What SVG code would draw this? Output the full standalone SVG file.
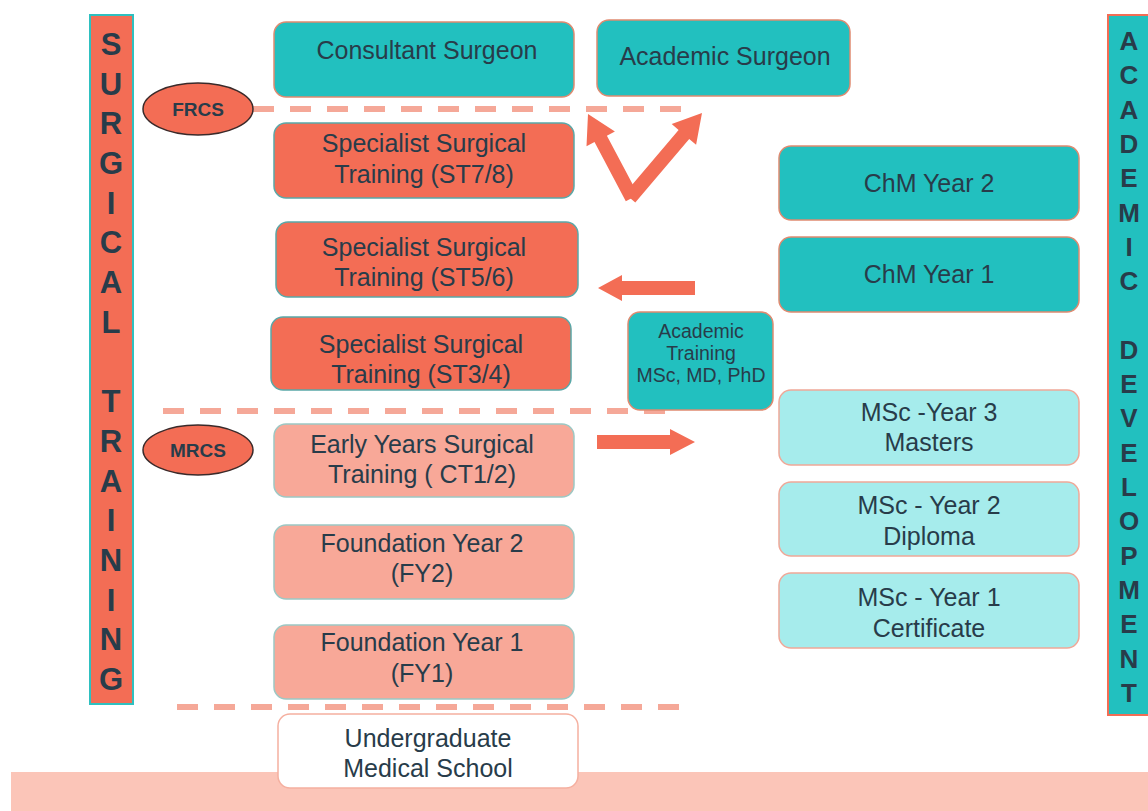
<svg xmlns="http://www.w3.org/2000/svg" width="1148" height="811" viewBox="0 0 1148 811">
<style>
text{font-family:"Liberation Sans",Arial,sans-serif;fill:#283c4a;text-anchor:middle}
.t{font-size:25px}
.s{font-size:19.5px}
.e{font-size:19px;font-weight:bold}
.teal{fill:#22c0bf;stroke:#e08a70;stroke-width:1.5}
.coral{fill:#f36d55;stroke:#5aa8a8;stroke-width:1.5}
.salmon{fill:#f8a898;stroke:#9cc8c4;stroke-width:1.5}
.lteal{fill:#a6ecec;stroke:#f0a898;stroke-width:1.5}
.white{fill:#fff;stroke:#f5b0a0;stroke-width:1.5}
.dash{stroke:#f5a898;stroke-width:6;stroke-dasharray:21 16;fill:none}
.arr{fill:#f36d55}
.bar{font-size:31px;font-weight:bold}
.bar2{font-size:26px;font-weight:bold}
</style>
<rect x="11" y="772" width="1137" height="39" fill="#fbc5b8"/>
<g id="surgical-bar">
<rect x="90" y="15" width="43" height="689" fill="#f36d55" stroke="#2ec0c0" stroke-width="2"/>
<text class="bar" x="111" y="55">S</text>
<text class="bar" x="111" y="95">U</text>
<text class="bar" x="111" y="134">R</text>
<text class="bar" x="111" y="174">G</text>
<text class="bar" x="111" y="214">I</text>
<text class="bar" x="111" y="253">C</text>
<text class="bar" x="111" y="293">A</text>
<text class="bar" x="111" y="333">L</text>
<text class="bar" x="111" y="412">T</text>
<text class="bar" x="111" y="452">R</text>
<text class="bar" x="111" y="492">A</text>
<text class="bar" x="111" y="531">I</text>
<text class="bar" x="111" y="571">N</text>
<text class="bar" x="111" y="611">I</text>
<text class="bar" x="111" y="650">N</text>
<text class="bar" x="111" y="690">G</text>
</g>
<g id="academic-bar">
<rect x="1108" y="15" width="52" height="700" fill="#22c0bf" stroke="#f36d55" stroke-width="2"/>
<text class="bar2" x="1129" y="50">A</text>
<text class="bar2" x="1129" y="84">C</text>
<text class="bar2" x="1129" y="119">A</text>
<text class="bar2" x="1129" y="153">D</text>
<text class="bar2" x="1129" y="187">E</text>
<text class="bar2" x="1129" y="222">M</text>
<text class="bar2" x="1129" y="256">I</text>
<text class="bar2" x="1129" y="290">C</text>
<text class="bar2" x="1129" y="359">D</text>
<text class="bar2" x="1129" y="393">E</text>
<text class="bar2" x="1129" y="427">V</text>
<text class="bar2" x="1129" y="462">E</text>
<text class="bar2" x="1129" y="496">L</text>
<text class="bar2" x="1129" y="530">O</text>
<text class="bar2" x="1129" y="565">P</text>
<text class="bar2" x="1129" y="599">M</text>
<text class="bar2" x="1129" y="633">E</text>
<text class="bar2" x="1129" y="668">N</text>
<text class="bar2" x="1129" y="702">T</text>
</g>
<g id="connectors">
<line class="dash" x1="253" y1="109" x2="692" y2="109"/>
<line class="dash" x1="163" y1="411" x2="678" y2="411"/>
<line class="dash" x1="177" y1="707" x2="692" y2="707"/>
<polygon class="arr" points="638.2,194.8 606.9,135.7 614.9,131.6 588,114 586.5,146.2 594.5,142.1 625.8,201.2"/>
<polygon class="arr" points="635.3,202.5 689.2,138.9 696.1,144.7 702,113 671.7,124.1 678.6,129.9 624.7,193.5"/>
<polygon class="arr" points="695,281 622,281 622,275 598,288 622,301 622,295 695,295"/>
<polygon class="arr" points="597,435 670,435 670,429 695,442 670,455 670,449 597,449"/>
</g>
<g id="frcs">
<ellipse cx="198" cy="109" rx="55" ry="26" fill="#f36d55" stroke="#3a2a2a" stroke-width="1.5"/>
<text class="e" x="198" y="116">FRCS</text>
</g>
<g id="mrcs">
<ellipse cx="198" cy="450" rx="55" ry="25" fill="#f36d55" stroke="#3a2a2a" stroke-width="1.5"/>
<text class="e" x="198" y="457">MRCS</text>
</g>
<g id="consultant">
<rect class="teal" x="274" y="22" width="300" height="75" rx="12"/>
<text class="t" x="427" y="59">Consultant Surgeon</text>
</g>
<g id="academic-surgeon">
<rect class="teal" x="597" y="20" width="253" height="76" rx="12"/>
<text class="t" x="725" y="65">Academic Surgeon</text>
</g>
<g id="st78">
<rect class="coral" x="274" y="123" width="300" height="75" rx="12"/>
<text class="t" x="424" y="152">Specialist Surgical</text>
<text class="t" x="424" y="183">Training (ST7/8)</text>
</g>
<g id="st56">
<rect class="coral" x="276" y="222" width="302" height="75" rx="12"/>
<text class="t" x="424" y="256">Specialist Surgical</text>
<text class="t" x="424" y="286">Training (ST5/6)</text>
</g>
<g id="st34">
<rect class="coral" x="271" y="317" width="300" height="73" rx="12"/>
<text class="t" x="421" y="353">Specialist Surgical</text>
<text class="t" x="421" y="383">Training (ST3/4)</text>
</g>
<g id="ct12">
<rect class="salmon" x="274" y="424" width="300" height="73" rx="12"/>
<text class="t" x="422" y="453">Early Years Surgical</text>
<text class="t" x="422" y="483">Training ( CT1/2)</text>
</g>
<g id="fy2">
<rect class="salmon" x="274" y="525" width="300" height="74" rx="12"/>
<text class="t" x="422" y="552">Foundation Year 2</text>
<text class="t" x="422" y="582">(FY2)</text>
</g>
<g id="fy1">
<rect class="salmon" x="274" y="625" width="300" height="74" rx="12"/>
<text class="t" x="422" y="651">Foundation Year 1</text>
<text class="t" x="422" y="682">(FY1)</text>
</g>
<g id="undergrad">
<rect class="white" x="278" y="714" width="300" height="74" rx="12"/>
<text class="t" x="428" y="747">Undergraduate</text>
<text class="t" x="428" y="777">Medical School</text>
</g>
<g id="chm2">
<rect class="teal" x="779" y="146" width="300" height="74" rx="12"/>
<text class="t" x="929" y="192">ChM Year 2</text>
</g>
<g id="chm1">
<rect class="teal" x="779" y="237" width="300" height="75" rx="12"/>
<text class="t" x="929" y="283">ChM Year 1</text>
</g>
<g id="academic-training">
<rect class="teal" x="628" y="312" width="145" height="98" rx="12"/>
<text class="s" x="701" y="338">Academic</text>
<text class="s" x="701" y="360">Training</text>
<text class="s" x="701" y="382">MSc, MD, PhD</text>
</g>
<g id="msc3">
<rect class="lteal" x="779" y="390" width="300" height="75" rx="12"/>
<text class="t" x="929" y="421">MSc -Year 3</text>
<text class="t" x="929" y="451">Masters</text>
</g>
<g id="msc2">
<rect class="lteal" x="779" y="482" width="300" height="74" rx="12"/>
<text class="t" x="929" y="514">MSc - Year 2</text>
<text class="t" x="929" y="545">Diploma</text>
</g>
<g id="msc1">
<rect class="lteal" x="779" y="573" width="300" height="75" rx="12"/>
<text class="t" x="929" y="606">MSc - Year 1</text>
<text class="t" x="929" y="637">Certificate</text>
</g>
</svg>
